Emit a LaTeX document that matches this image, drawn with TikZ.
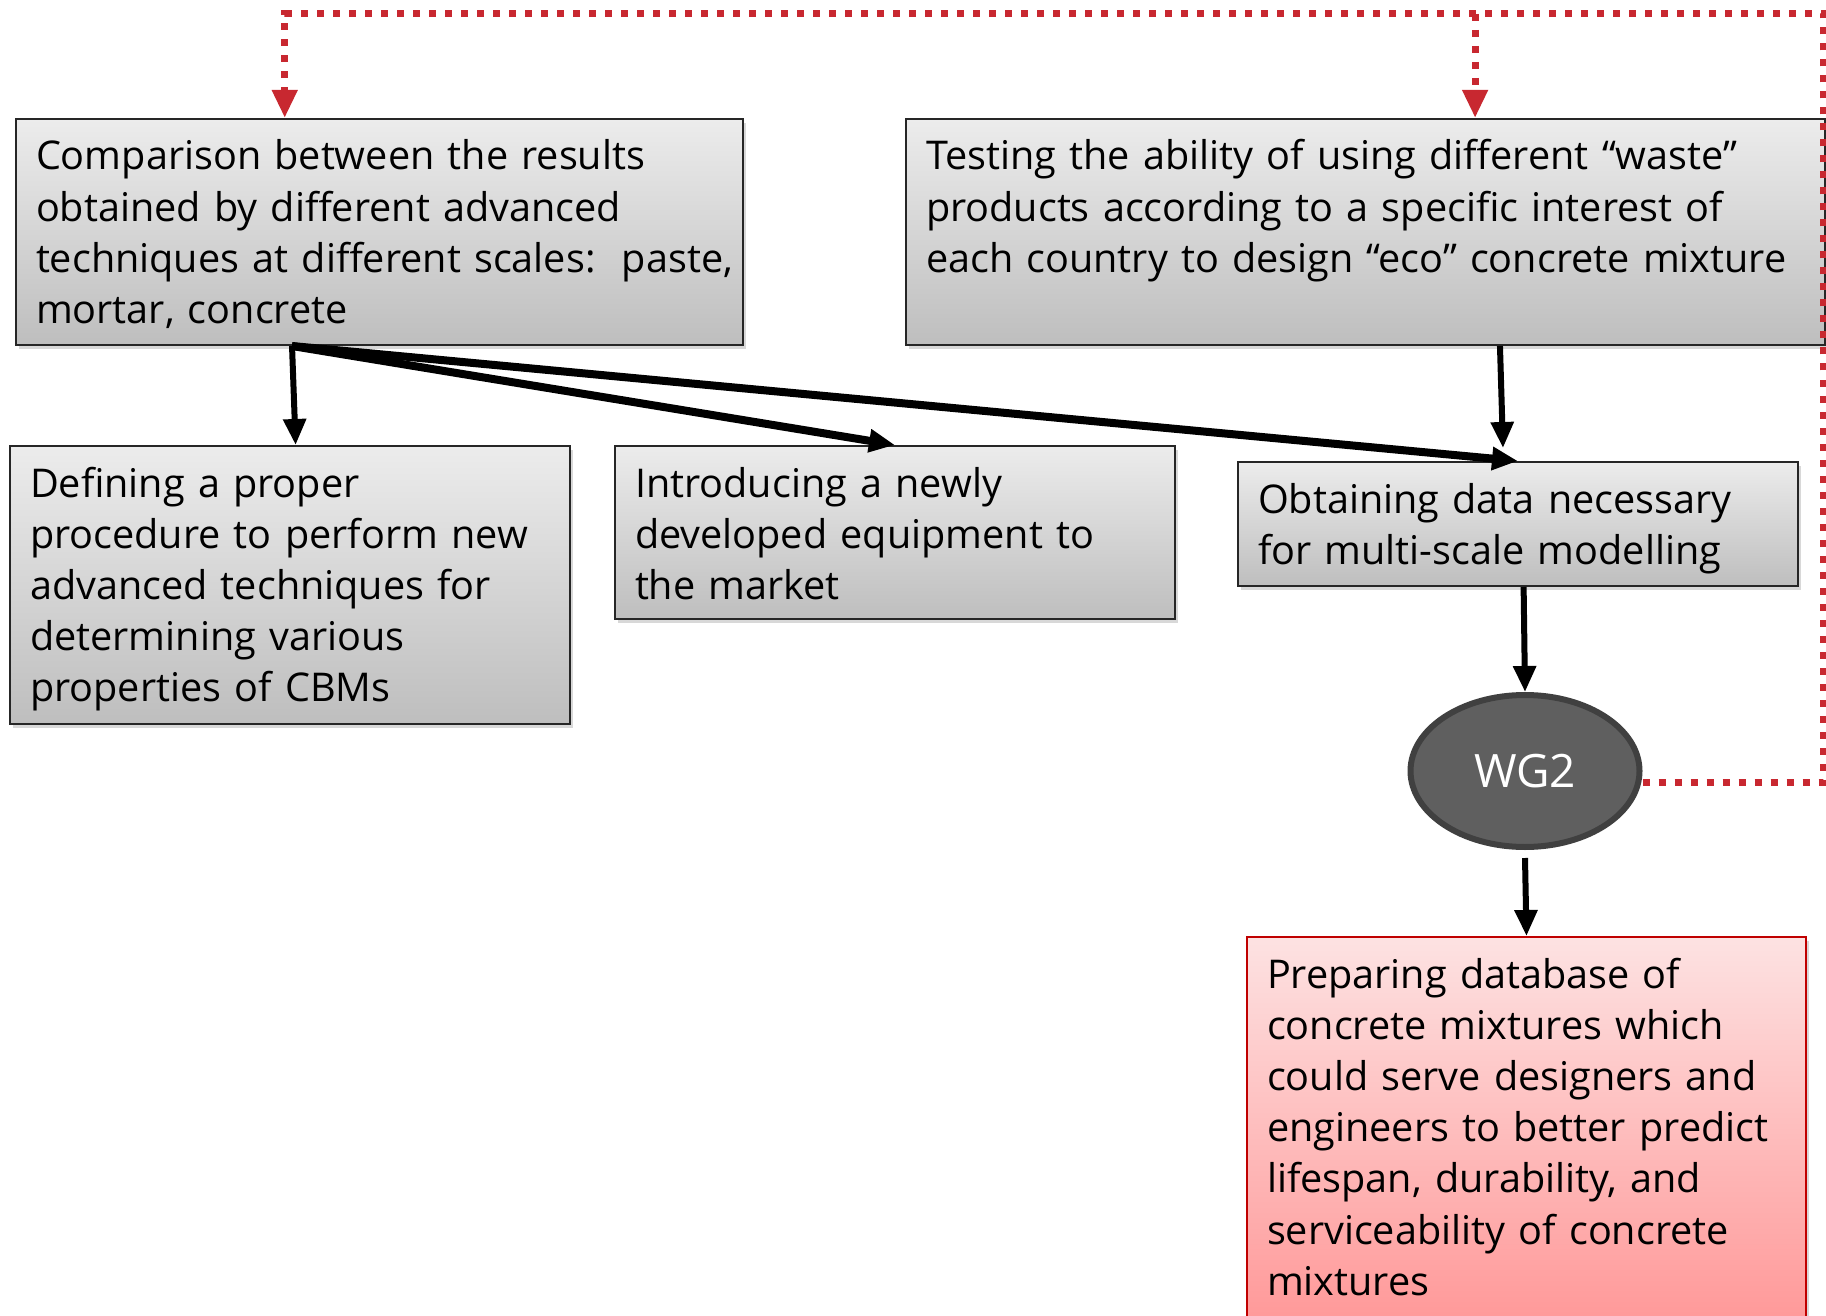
\documentclass[tikz,border=0pt]{standalone}
\usepackage{fontspec}
\setmainfont{Open Sans}
\usetikzlibrary{arrows.meta,calc,shadows,shapes.geometric}

\definecolor{boxtop}{RGB}{236,236,236}
\definecolor{boxbot}{RGB}{190,190,190}
\definecolor{redtop}{RGB}{253,226,226}
\definecolor{redbot}{RGB}{255,148,148}
\definecolor{redline}{RGB}{192,0,0}
\definecolor{loopred}{RGB}{200,40,48}
\definecolor{wgfill}{RGB}{95,95,95}
\definecolor{wgline}{RGB}{64,64,64}

\tikzset{
  greybox/.style={draw=black!85, line width=1pt, anchor=north west,
    inner xsep=10pt, inner ysep=0pt, align=left,
    top color=boxtop, bottom color=boxbot,
    drop shadow={shadow xshift=1.5pt, shadow yshift=-2pt, opacity=0.3},
    text height=25.5pt, font=\fontsize{19.8}{25.6}\selectfont},
  redbox/.style={greybox, draw=redline, top color=redtop, bottom color=redbot},
  wgnode/.style={ellipse, draw=wgline, line width=3pt, fill=wgfill, text=white,
    minimum width=114.5pt, minimum height=76pt, font=\fontsize{23}{27}\selectfont},
  flow/.style={-{Triangle[width=11pt,length=13pt]}, line width=3pt},
  feedback/.style={loopred, line width=3.5pt, dash pattern=on 3.5pt off 4.5pt,
    -{Triangle[width=12pt,length=14pt]}}
}

\begin{document}
\begin{tikzpicture}[x=0.5pt,y=-0.5pt]
\useasboundingbox (0,0) rectangle (1826,1316);
\fill[white] (0,0) rectangle (1826,1316);
% Drawing boxes
\node[greybox, text width=343.5pt, text depth=87.5pt] (cmp) at (15,118)
  {Comparison between the results\\obtained by different advanced\\\mbox{techniques at different scales:\ \ paste,}\\mortar, concrete};
\node[greybox, text width=439.5pt, text depth=87.5pt] (test) at (905,118)
  {Testing the ability of using different “waste”\\products according to a specific interest of\\each country to design “eco” concrete mixture};
\node[greybox, text width=260pt, text depth=113.5pt] (def) at (9,445)
  {Defining a proper\\procedure to perform new\\advanced techniques for\\determining various\\properties of CBMs};
\node[greybox, text width=260pt, text depth=61pt] (intro) at (614,445)
  {Introducing a newly\\developed equipment to\\the market};
\node[greybox, text width=260pt, text depth=36.5pt] (obt) at (1237,461)
  {Obtaining data necessary\\for multi-scale modelling};
\node[wgnode] (wg) at (1525,771) {WG2};
\node[redbox, text width=259.5pt, text depth=179pt] (prep) at (1246,936)
  {Preparing database of\\concrete mixtures which\\could serve designers and\\engineers to better predict\\lifespan, durability, and\\serviceability of concrete\\mixtures};
% Done with boxes; drawing arrows
\coordinate (cmpout) at ($(cmp.south west)!0.38!(cmp.south east)$);
\draw[flow] (cmpout) -- ($(def.north west)!0.51!(def.north east)$);
\draw[flow, line width=4pt] (cmpout) -- (intro.north);
\draw[flow, line width=4pt] (cmpout) -- (obt.north);
\draw[flow] ($(test.south west)!0.646!(test.south east)$) -- ([xshift=-7.5pt,yshift=6.5pt]obt.north);
\draw[flow] ($(obt.south west)!0.51!(obt.south east)$) -- (wg.north);
\draw[flow] ([yshift=-4pt]wg.south) -- (prep.north);
% Done with arrows; drawing the loop back
\coordinate (loopr) at (1823,14);
\coordinate (cmpin) at ($(cmp.north west)!0.37!(cmp.north east)$);
\coordinate (testin) at ($(test.north west)!0.619!(test.north east)$);
\draw[feedback] ([yshift=-5.5pt]wg.east) -| (loopr) -| (cmpin);
\draw[feedback] (loopr -| testin) -- (testin);
% Done with the loop back
\end{tikzpicture}
\end{document}
